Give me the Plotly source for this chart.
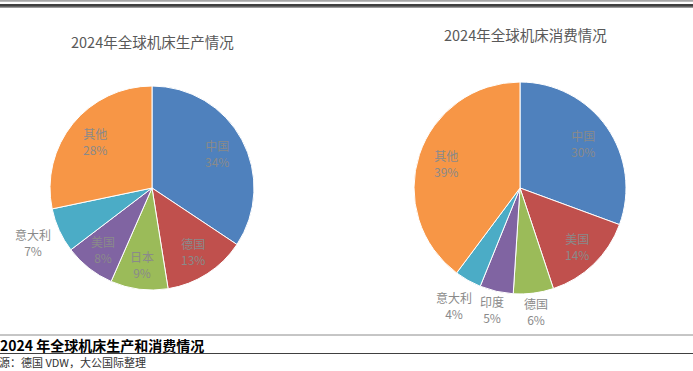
import math
import plotly.graph_objects as go

# ---------------- data ----------------
prod_labels = ["中国", "德国", "日本", "美国", "意大利", "其他"]
prod_values = [34, 13, 9, 8, 7, 28]
cons_labels = ["中国", "美国", "德国", "印度", "意大利", "其他"]
cons_values = [30, 14, 6, 5, 4, 39]
prod_title = "2024年全球机床生产情况"
cons_title = "2024年全球机床消费情况"
caption = "2024 年全球机床生产和消费情况"
source = "源：德国 VDW，大公国际整理"

# ---------------- style ----------------
W, H = 693, 371
colors = ["#4F81BD", "#C0504D", "#9BBB59", "#8064A2", "#4BACC6", "#F79646"]
label_color = "#8a8a8a"
font_cjk = "Noto Sans CJK SC"
# radial position of each label as a fraction of the pie radius
prod_label_r = [0.72, 0.74, 0.76, 0.77, 1.28, 0.72]
cons_label_r = [0.73, 0.77, 1.17, 1.18, 1.27, 0.74]
# pie geometry in pixels (center x, center y, radius)
pie1 = (152, 188, 102)
pie2 = (520, 188, 106)


def domain(geom):
    cx, cy, r = geom
    return dict(x=[(cx - r) / W, (cx + r) / W], y=[1 - (cy + r) / H, 1 - (cy - r) / H])


def label_annotations(labels, values, geom, rfacs):
    cx, cy, r = geom
    total = sum(values)
    anns = []
    cum = 0
    for lab, v, f in zip(labels, values, rfacs):
        mid = (cum + v / 2) / total * 2 * math.pi
        cum += v
        px = cx + math.sin(mid) * r * f
        py = cy - math.cos(mid) * r * f
        anns.append(dict(
            x=px / W, y=1 - py / H, xref="paper", yref="paper",
            text=f"{lab}<br>{v}%", showarrow=False,
            xanchor="center", yanchor="middle", align="center",
            font=dict(family=font_cjk, size=12, color=label_color),
        ))
    return anns


fig = go.Figure()
for labels, values, geom in [(prod_labels, prod_values, pie1), (cons_labels, cons_values, pie2)]:
    fig.add_trace(go.Pie(
        labels=labels, values=values, sort=False, direction="clockwise", rotation=0,
        marker=dict(colors=colors, line=dict(color="white", width=1)),
        textinfo="none", hoverinfo="label+percent", showlegend=False,
        domain=domain(geom),
    ))

anns = []
anns += label_annotations(prod_labels, prod_values, pie1, prod_label_r)
anns += label_annotations(cons_labels, cons_values, pie2, cons_label_r)
anns.append(dict(x=152 / W, y=1 - 41 / H, xref="paper", yref="paper", text=prod_title,
                 showarrow=False, xanchor="center", yanchor="middle",
                 font=dict(family=font_cjk, size=14.5, color="#595959")))
anns.append(dict(x=525 / W, y=1 - 35 / H, xref="paper", yref="paper", text=cons_title,
                 showarrow=False, xanchor="center", yanchor="middle",
                 font=dict(family=font_cjk, size=14.5, color="#595959")))
anns.append(dict(x=-2 / W, y=1 - 345 / H, xref="paper", yref="paper", text=f"<b>{caption}</b>",
                 showarrow=False, xanchor="left", yanchor="middle",
                 font=dict(family=font_cjk, size=14, color="#000000")))
anns.append(dict(x=-3 / W, y=1 - 362 / H, xref="paper", yref="paper", text=source,
                 showarrow=False, xanchor="left", yanchor="middle",
                 font=dict(family=font_cjk, size=11, color="#333333")))


def hline(ypx, color, width):
    return dict(type="line", xref="paper", yref="paper", x0=0, x1=1,
                y0=1 - ypx / H, y1=1 - ypx / H, line=dict(color=color, width=width))


shapes = [
    dict(type="rect", xref="paper", yref="paper", x0=0, x1=1, y0=1 - 1.8 / H, y1=1,
         fillcolor="#a6a6a6", line=dict(width=0)),
    dict(type="rect", xref="paper", yref="paper", x0=0, x1=1, y0=1 - 5.8 / H, y1=1 - 4.3 / H,
         fillcolor="#000000", line=dict(width=0)),
    hline(6.9, "#000000", 1),
    hline(335, "#8c8c8c", 1),
    hline(353.5, "#404040", 1),
]

fig.update_layout(
    width=W, height=H, margin=dict(l=0, r=0, t=0, b=0),
    paper_bgcolor="white", plot_bgcolor="white",
    annotations=anns, shapes=shapes,
)
fig.write_html(
    "out.html",
    config={"displayModeBar": False},
    post_script="document.body.style.margin='0px';document.body.style.overflow='hidden';",
)
